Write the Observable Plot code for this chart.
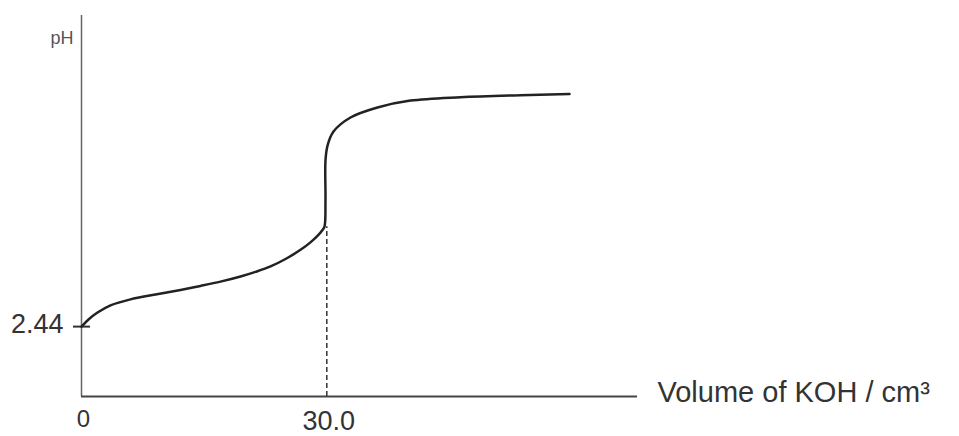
<!DOCTYPE html>
<html>
<head>
<meta charset="utf-8">
<script src="https://cdn.jsdelivr.net/npm/d3@7"></script>
<script src="https://cdn.jsdelivr.net/npm/@observablehq/plot@0.6"></script>
<style>
  html, body { margin: 0; padding: 0; background: #fff; }
  #chart svg { overflow: visible; }
</style>
</head>
<body>
<div id="chart"></div>
<script>
// Titration curve: volume of KOH added (cm³) vs pH
const volume = [0, 0.86, 1.96, 3.55, 5.99, 9.05, 12.11, 14.56, 17.0, 19.45, 21.28, 23.12, 24.95, 26.79, 28.0, 28.98, 29.47, 29.72, 29.84, 29.84, 30.09, 30.82, 32.9, 36.2, 40.24, 46.35, 53.69, 59.69];
const pH     = [2.44, 2.69, 2.93, 3.18, 3.39, 3.56, 3.72, 3.86, 4.01, 4.19, 4.35, 4.54, 4.80, 5.12, 5.38, 5.64, 5.81, 5.93, 6.84, 8.24, 8.76, 9.25, 9.74, 10.09, 10.33, 10.45, 10.52, 10.56];

const initialPH = 2.44;
const equivalenceVolume = 30.0;
const equivalencePH = 5.93;
const xTickValues = [0, 30];
const xTickLabels = ["0", "30.0"];
const xLabel = "Volume of KOH / cm³";
const yLabel = "pH";
const xMax = 68;
const yMax = 13.3;

const curve = volume.map((v, i) => ({v, p: pH[i]}));
const xTicks = xTickValues.map((v, i) => ({v, label: xTickLabels[i]}));

const chart = Plot.plot({
  width: 959,
  height: 436,
  marginLeft: 81,
  marginRight: 322,
  marginTop: 15,
  marginBottom: 40,
  style: {fontFamily: "'Liberation Sans', Arial, sans-serif", background: "#fff", overflow: "visible"},
  x: {domain: [0, xMax], axis: null},
  y: {domain: [0, yMax], axis: null},
  marks: [
    // axes
    Plot.ruleX([0], {y1: 0, y2: yMax, stroke: "#666", strokeWidth: 1.5}),
    Plot.ruleY([0], {x1: 0, x2: xMax, stroke: "#444", strokeWidth: 2}),
    // tick at initial pH
    Plot.ruleY([initialPH], {x1: 0, x2: 0, insetLeft: -8, insetRight: -9, stroke: "#333", strokeWidth: 2}),
    // dashed equivalence line
    Plot.ruleX([equivalenceVolume], {y1: 0, y2: equivalencePH, stroke: "#333", strokeWidth: 1.5, strokeDasharray: "5,3"}),
    // curve
    Plot.line(curve, {x: "v", y: "p", curve: "catmull-rom", stroke: "#222", strokeWidth: 2.5}),
    // labels
    Plot.text([yLabel], {x: 0, y: yMax, text: d => d, textAnchor: "end", lineAnchor: "bottom", dx: -8, dy: 28, fontSize: 18, fill: "#555"}),
    Plot.text([initialPH], {x: 0, y: d => d, text: d => d.toFixed(2), textAnchor: "end", lineAnchor: "bottom", dx: -18, dy: 6, fontSize: 27, fill: "#333"}),
    Plot.text(xTicks.slice(0, 1), {x: "v", y: 0, text: "label", textAnchor: "middle", lineAnchor: "bottom", dx: 2, dy: 30, fontSize: 24, fill: "#333"}),
    Plot.text(xTicks.slice(1), {x: "v", y: 0, text: "label", textAnchor: "middle", lineAnchor: "bottom", dx: 2, dy: 33, fontSize: 27, fill: "#333"}),
    Plot.text([xLabel], {x: xMax, y: 0, text: d => d, textAnchor: "start", lineAnchor: "bottom", dx: 20, dy: 5, fontSize: 29, fill: "#333"})
  ]
});
document.getElementById("chart").appendChild(chart);
</script>
</body>
</html>
